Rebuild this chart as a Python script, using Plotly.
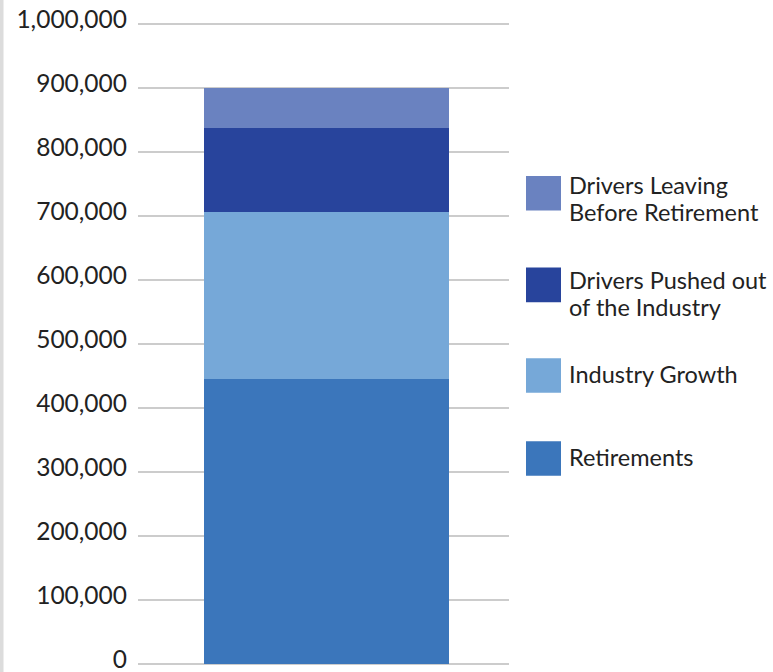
import plotly.graph_objects as go

# ---- data ----
categories = ["Driver hires"]
series_names = ["Retirements", "Industry Growth", "Drivers Pushed out of the Industry", "Drivers Leaving Before Retirement"]
legend_labels = ["Retirements", "Industry Growth", "Drivers Pushed out<br>of the Industry", "Drivers Leaving<br>Before Retirement"]
series_values = [446000, 260000, 131000, 63000]
tick_values = [0, 100000, 200000, 300000, 400000, 500000, 600000, 700000, 800000, 900000, 1000000]
tick_labels = ["0", "100,000", "200,000", "300,000", "400,000", "500,000", "600,000", "700,000", "800,000", "900,000", "1,000,000"]

colors = ["#3B76BB", "#76A8D8", "#28449C", "#6A82C0"]

OFF = 0                   # page body margin is removed below
W, H = 773 - OFF, 672 - OFF
Y0_PX, Y1_PX = 663.7, 24.0          # page px of value 0 and 1,000,000
EXT = 4                             # extra px of plot area beyond both ends
L, R = 138 - OFF, 509 - OFF         # plot area x (figure px)
T, B = Y1_PX - EXT - OFF, Y0_PX + EXT - OFF   # plot area y (figure px)
per_px = 1000000 / (Y0_PX - Y1_PX)
y_range = [-EXT * per_px, 1000000 + EXT * per_px]

def px_x(px):
    return (px - OFF - L) / (R - L)

def px_y(py):
    return (B - (py - OFF)) / (B - T)

FONT = "Lato"
TXT = "#222222"
TICK_SIZE = 24.5
LEG_SIZE = 23.5

fig = go.Figure()
for name, val, col in zip(series_names, series_values, colors):
    fig.add_trace(go.Bar(
        x=[0], y=[val], name=name, width=0.658,
        marker=dict(color=col, line=dict(width=0)),
        showlegend=False, hovertemplate=name + ": %{y:,}<extra></extra>",
    ))

# manual legend: swatches + labels (page px positions)
legend_rows = [  # (series index, swatch top, first-line centre)
    (3, 176, 185),
    (2, 267.5, 280),
    (1, 358, 374),
    (0, 441, 457),
]
LINE_GAP = 26.5
shapes = []
annotations = []
for idx, top, c0 in legend_rows:
    shapes.append(dict(type="rect", xref="paper", yref="paper",
                       x0=px_x(526), x1=px_x(561), y0=px_y(top + 34.5), y1=px_y(top),
                       fillcolor=colors[idx], line=dict(width=0), layer="above"))
    for k, line in enumerate(legend_labels[idx].split("<br>")):
        annotations.append(dict(xref="paper", yref="paper", x=px_x(567), y=px_y(c0 + k * LINE_GAP),
                                text=line, showarrow=False, xanchor="left", yanchor="middle",
                                align="left", font=dict(family=FONT, size=LEG_SIZE, color=TXT)))

# light gray strip on the left edge
shapes.append(dict(type="rect", xref="paper", yref="paper",
                   x0=px_x(0), x1=px_x(3.5), y0=px_y(672), y1=px_y(0),
                   fillcolor="#DCDCDC", line=dict(width=0), layer="above"))

fig.update_layout(
    width=W, height=H,
    margin=dict(l=L, r=W - R, t=T, b=H - B, pad=0),
    paper_bgcolor="white", plot_bgcolor="white",
    barmode="stack", bargap=0,
    shapes=shapes, annotations=annotations,
    font=dict(family=FONT, color=TXT),
    xaxis=dict(range=[-0.508, 0.492], showticklabels=False, showgrid=False,
               zeroline=False, showline=False, ticks="", fixedrange=True),
    yaxis=dict(range=y_range, tickvals=tick_values, ticktext=tick_labels,
               showgrid=True, gridcolor="#CCCCCC", gridwidth=2,
               zeroline=True, zerolinecolor="#CCCCCC", zerolinewidth=2,
               showline=False, ticks="", ticklabelstandoff=10, ticklabelshift=-5,
               ticklabeloverflow="allow", automargin=False,
               tickfont=dict(family=FONT, size=TICK_SIZE, color=TXT), fixedrange=True),
)

fig.write_html("out.html", config={"displayModeBar": False},
               post_script="document.body.style.margin='0px';")
